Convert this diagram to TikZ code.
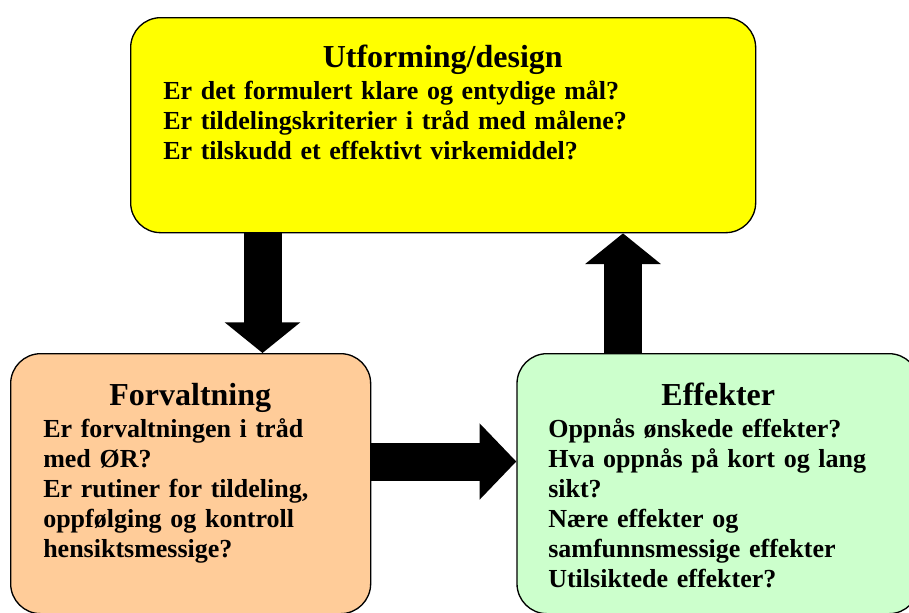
\documentclass[tikz,border=0pt]{standalone}
\usepackage{fontspec}
\setmainfont{Liberation Serif}
\usetikzlibrary{arrows.meta,positioning}
\definecolor{designyellow}{RGB}{255,255,0}
\definecolor{forvorange}{RGB}{255,204,153}
\definecolor{effektgreen}{RGB}{204,255,204}
\newcommand{\boxtitle}[1]{{\centering\fontsize{24}{24}\selectfont\bfseries #1\par}\vspace{1.5pt}}
\setlength{\parindent}{0pt}

\begin{document}
\begin{tikzpicture}[x=0.75pt, y=-0.75pt]
  \tikzstyle{box} = [draw, line width=1pt, rectangle, rounded corners=22.5pt, anchor=north west, inner sep=0pt]
  \tikzstyle{boxtext} = [anchor=north west, inner sep=0pt, font=\fontsize{19.5}{22.5}\selectfont\bfseries]
  \tikzstyle{bigarrow} = [line width=28.5pt, -{Triangle[width=55.5pt, length=23pt]}]

  \useasboundingbox (0,0) rectangle (909,612);
  \clip (0,0) rectangle (909,612);

  % the three boxes
  \node [box, fill=designyellow, minimum width=468.75pt, minimum height=161.25pt] (design) at (130,17) {};
  \node [box, fill=forvorange, minimum width=270pt, minimum height=195pt] (forv) at (10,353) {};
  \node [box, fill=effektgreen, minimum width=301.5pt, minimum height=195pt, right=108.75pt of forv] (effekt) {};

  % texts
  \node [boxtext, text width=419.25pt] (designtext) at (163,45) {\boxtitle{Utforming/design}
    Er det formulert klare og entydige mål?\par
    Er tildelingskriterier i tråd med målene?\par
    Er tilskudd et effektivt virkemiddel?};
  \node [boxtext, text width=220.5pt] (forvtext) at (43,383) {\boxtitle{Forvaltning}
    Er forvaltningen i tråd\par
    med ØR?\par
    Er rutiner for tildeling,\par
    oppfølging og kontroll\par
    hensiktsmessige?};
  \node [boxtext, text width=255pt] (effekttext) at (548,383) {\boxtitle{Effekter}
    Oppnås ønskede effekter?\par
    Hva oppnås på kort og lang\par
    sikt?\par
    Nære effekter og\par
    samfunnsmessige effekter\par
    Utilsiktede effekter?};

  % arrows
  \coordinate (downx) at (262.5,0);
  \coordinate (upx) at (623,0);
  \coordinate (righty) at (0,461.5);
  \draw [bigarrow] (design.south -| downx) -- (forv.north -| downx);
  \draw [bigarrow] (effekt.north -| upx) -- (design.south -| upx);
  \draw [bigarrow, -{Triangle[width=55.5pt, length=27.5pt]}] (forv.east |- righty) -- (effekt.west |- righty);
\end{tikzpicture}
\end{document}
